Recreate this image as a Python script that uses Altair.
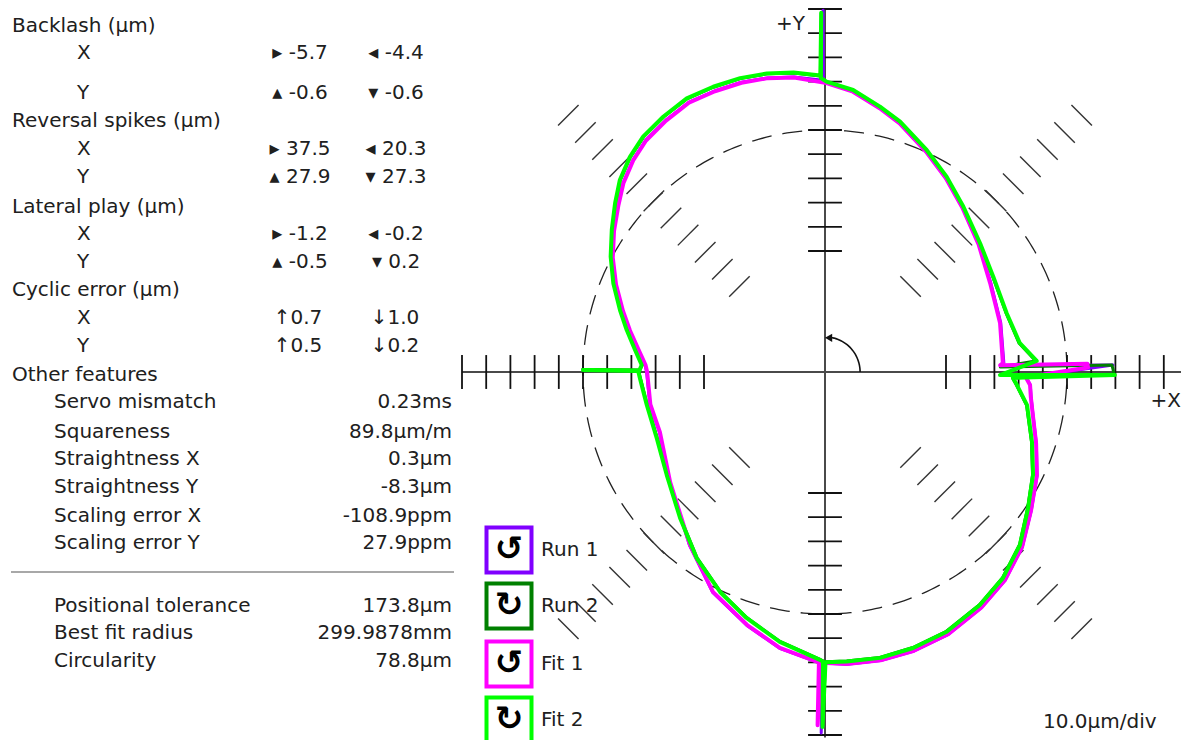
import numpy as np
import pandas as pd
import altair as alt

# ---------------- values ----------------
backlash_x = [-5.7, -4.4]
backlash_y = [-0.6, -0.6]
reversal_x = [37.5, 20.3]
reversal_y = [27.9, 27.3]
lateral_x = [-1.2, -0.2]
lateral_y = [-0.5, 0.2]
cyclic_x = [0.7, 1.0]
cyclic_y = [0.5, 0.2]

other_labels = ["Servo mismatch", "Squareness", "Straightness X", "Straightness Y",
                "Scaling error X", "Scaling error Y"]
other_values = ["0.23ms", "89.8µm/m", "0.3µm", "-8.3µm", "-108.9ppm", "27.9ppm"]
summary_labels = ["Positional tolerance", "Best fit radius", "Circularity"]
summary_values = ["173.8µm", "299.9878mm", "78.8µm"]

series_names = ["Run 1", "Run 2", "Fit 1", "Fit 2"]
series_colors = ["#8000ff", "#008000", "#ff00ff", "#00ff00"]
series_icons = ["↺", "↻", "↺", "↻"]

# polar traces: angle (deg) and radial deviation (µm), 10 µm per division
run1_angle = [2.9, 15.6, 28.3, 39.7, 50.1, 58.1, 65.4, 73.3, 78.3, 84.3, 89.7, 90.3, 90.3, 90.4,
              96.0, 101.0, 106.1, 111.4, 116.8, 122.3, 127.7, 132.2, 136.9, 141.2, 146.3, 151.7,
              157.3, 163.2, 168.0, 173.4, 177.8, 180.0, 190.5, 200.0, 215.4, 232.0, 243.0, 252.9,
              260.7, 268.5, 269.4, 269.4, 269.7, 274.3, 280.9, 287.7, 295.1, 303.6, 310.8, 318.4,
              326.2, 334.0, 341.3, 348.3, 353.0, 356.4, 358.5, 1.4, 2.0, 2.9]
run1_dev = [-26.0, -24.6, -22.2, -17.3, -11.4, -5.5, 0.4, 7.5, 11.5, 16.6, 19.5, 19.8, 49.5, 20.6,
            22.6, 23.8, 24.6, 24.8, 24.8, 23.1, 21.1, 18.2, 14.3, 9.8, 5.0, -0.2,
            -6.2, -12.6, -17.4, -22.4, -25.6, -26.3, -26.4, -27.2, -21.3, -9.1, 2.2, 9.6,
            15.7, 19.9, 20.0, 49.2, 20.3, 21.1, 21.4, 21.0, 19.8, 16.9, 13.8, 9.0,
            2.6, -2.5, -7.8, -12.2, -14.2, -15.0, -16.9, 19.0, -27.4, -26.0]

run2_angle = [3.0, 8.4, 17.9, 29.5, 39.7, 50.1, 58.1, 65.4, 73.3, 78.3, 84.3, 89.7, 90.8, 90.6, 90.9,
              96.0, 101.0, 106.1, 111.4, 116.8, 122.3, 127.7, 132.2, 136.9, 141.2, 146.3, 151.7,
              157.3, 163.2, 168.0, 173.4, 177.8, 179.4, 179.4, 179.7, 182.0, 190.5, 201.4, 213.0,
              225.2, 235.4, 244.5, 252.3, 260.5, 269.0, 269.6, 269.6, 270.1, 274.3, 280.9, 287.7,
              295.1, 303.6, 310.8, 318.4, 326.2, 333.7, 341.3, 350.7, 356.1, 358.2, 359.6, 1.4,
              1.6, 3.0]
run2_dev = [-12.8, -18.9, -21.3, -20.3, -16.9, -11.1, -5.1, 0.7, 7.8, 11.8, 16.9, 19.8, 21.3, 48.3, 22.3,
            24.2, 25.5, 26.2, 26.4, 26.5, 24.7, 22.7, 19.8, 15.9, 11.1, 5.7, 0.4,
            -5.4, -11.7, -16.4, -21.2, -24.4, -23.5, 0.2, -23.0, -23.7, -25.3, -25.5, -22.2,
            -15.2, -6.8, 0.5, 6.5, 12.9, 18.8, 19.4, 46.5, 19.7, 19.8, 20.1, 19.5,
            18.3, 15.4, 12.3, 7.5, 0.8, -4.3, -9.9, -15.6, -20.7, -22.5, 19.5, 18.6,
            -27.5, -12.8]

fit1_angle = [2.9, 15.6, 28.3, 39.7, 50.1, 58.1, 65.4, 73.3, 78.3, 84.3, 89.7,
              96.0, 101.0, 106.1, 111.4, 116.8, 122.3, 127.7, 132.2, 136.9, 141.2, 146.3, 151.7,
              157.3, 163.2, 168.0, 173.4, 177.8, 180.0, 190.5, 200.0, 215.4, 232.0, 243.0, 252.9,
              260.7, 268.5, 268.8, 268.8, 269.3, 274.3, 280.9, 287.7, 295.1, 303.6, 310.8, 318.4,
              326.2, 334.0, 341.3, 348.3, 353.0, 356.4, 358.5, 1.0, 1.8, 2.2, 2.9]
fit1_dev = [-26.4, -24.9, -22.5, -17.5, -11.5, -5.6, 0.2, 7.3, 11.3, 16.4, 19.4,
            22.4, 23.7, 24.4, 24.6, 24.7, 22.9, 20.9, 18.0, 14.1, 9.6, 4.8, -0.4,
            -6.4, -12.8, -17.6, -22.6, -25.8, -26.5, -26.6, -27.4, -21.5, -9.3, 2.0, 9.4,
            15.5, 19.8, 20.0, 46.0, 20.2, 21.0, 21.3, 20.9, 19.7, 16.8, 13.7, 8.9,
            2.5, -2.6, -7.9, -12.3, -14.3, -15.1, -17.0, 8.7, 8.5, -27.6, -26.4]

fit2_angle = [3.0, 8.4, 17.9, 29.5, 39.7, 50.1, 58.1, 65.4, 73.3, 78.3, 84.3, 89.7, 90.8, 90.6, 90.9,
              96.0, 101.0, 106.1, 111.4, 116.8, 122.3, 127.7, 132.2, 136.9, 141.2, 146.3, 151.7,
              157.3, 163.2, 168.0, 173.4, 177.8, 179.5, 179.5, 179.7, 182.0, 190.5, 201.4, 213.0,
              225.2, 235.4, 244.5, 252.3, 260.5, 269.0, 269.6, 269.6, 270.1, 274.3, 280.9, 287.7,
              295.1, 303.6, 310.8, 318.4, 326.2, 333.7, 341.3, 350.7, 356.1, 358.2, 359.4, 359.0,
              3.0]
fit2_dev = [-12.4, -18.6, -21.1, -20.1, -16.7, -10.9, -4.9, 0.9, 8.0, 12.0, 17.1, 20.0, 21.5, 48.5, 22.5,
            24.4, 25.7, 26.4, 26.6, 26.7, 24.9, 22.9, 20.0, 16.1, 11.3, 5.9, 0.6,
            -5.2, -11.5, -16.2, -21.0, -24.2, -23.3, 0.0, -22.8, -23.5, -25.1, -25.3, -22.0,
            -15.0, -6.6, 0.7, 6.7, 13.1, 19.0, 19.6, 46.7, 19.9, 20.0, 20.3, 19.7,
            18.5, 15.6, 12.5, 7.7, 1.0, -4.1, -9.7, -15.4, -20.5, -22.3, 19.8, -27.7,
            -12.4]

scale_label = "10.0µm/div"

# ---------------- layout ----------------
FONT = "DejaVu Sans"
TXT = "#202020"
FS = 20
W, H = 1173, 732
S = 24.2                      # pixels per division
CX, CY = 817.0, 364.0         # centre of the polar plot inside the view
XMIN, XMAX = -CX / S, (W - CX) / S
YMIN, YMAX = -(H - CY) / S, CY / S
xs = alt.Scale(domain=[XMIN, XMAX], nice=False, zero=False)
ys = alt.Scale(domain=[YMIN, YMAX], nice=False, zero=False)


def ix(p):
    return (p - 8 - CX) / S


def iy(p):
    return (CY - (p - 8)) / S


def enc(**extra):
    e = dict(x=alt.X("x:Q", scale=xs, axis=None), y=alt.Y("y:Q", scale=ys, axis=None))
    e.update(extra)
    return e


def trace(angles, devs):
    a = np.radians(np.array(angles, float))
    r = 10 + np.array(devs, float) / 10.0
    return pd.DataFrame({"i": np.arange(len(a)), "x": r * np.cos(a), "y": r * np.sin(a)})


layers = []

# nominal (dashed) circle
ca = np.radians(np.arange(0, 361, 1.0))
circ = pd.DataFrame({"i": np.arange(len(ca)), "x": 10 * np.cos(ca), "y": 10 * np.sin(ca)})
layers.append(alt.Chart(circ).mark_line(color="#222", strokeWidth=1.3, strokeDash=[20, 11])
              .encode(**enc(order="i:Q")))

# axis lines
axes_df = pd.DataFrame([
    {"x": ix(462), "y": 0.0, "x2": XMAX, "y2": 0.0},
    {"x": 0.0, "y": -15.1, "x2": 0.0, "y2": YMAX},
])
layers.append(alt.Chart(axes_df).mark_rule(color="#4a4a4a", strokeWidth=2)
              .encode(**enc(x2="x2:Q", y2="y2:Q")))

# ticks on axes and diagonals
tick_div = list(range(5, 16))
rows = []
for d in tick_div:
    for ang in (0, 90, 180, 270):
        ux, uy = np.cos(np.radians(ang)), np.sin(np.radians(ang))
        cx, cy = d * ux, d * uy
        px, py = -uy, ux
        rows.append({"x": cx - 0.7 * px, "y": cy - 0.7 * py, "x2": cx + 0.7 * px, "y2": cy + 0.7 * py})
ticks_df = pd.DataFrame(rows)
layers.append(alt.Chart(ticks_df).mark_rule(color="#111", strokeWidth=1.8)
              .encode(**enc(x2="x2:Q", y2="y2:Q")))
rows = []
for d in tick_div:
    for ang in (45, 135, 225, 315):
        ux, uy = np.cos(np.radians(ang)), np.sin(np.radians(ang))
        cx, cy = d * ux, d * uy
        px, py = -uy, ux
        rows.append({"x": cx - 0.6 * px, "y": cy - 0.6 * py, "x2": cx + 0.6 * px, "y2": cy + 0.6 * py})
diag_df = pd.DataFrame(rows)
layers.append(alt.Chart(diag_df).mark_rule(color="#333", strokeWidth=1.4)
              .encode(**enc(x2="x2:Q", y2="y2:Q")))

# centre direction arrow
aa = np.radians(np.arange(0, 85, 3.0))
arc = pd.DataFrame({"i": np.arange(len(aa)), "x": 1.45 * np.cos(aa), "y": 1.45 * np.sin(aa)})
layers.append(alt.Chart(arc).mark_line(color="#111", strokeWidth=1.6).encode(**enc(order="i:Q")))
head = pd.DataFrame({"x": [1.42 * np.cos(np.radians(84))], "y": [1.42 * np.sin(np.radians(84))]})
layers.append(alt.Chart(head).mark_point(shape="triangle-left", size=70, filled=True, color="#111",
                                         opacity=1).encode(**enc()))

# data traces
traces = [(run1_angle, run1_dev, 3.0), (run2_angle, run2_dev, 3.0),
          (fit1_angle, fit1_dev, 4.0), (fit2_angle, fit2_dev, 4.0)]
for (ang, dev, sw), col in zip(traces, series_colors):
    layers.append(alt.Chart(trace(ang, dev)).mark_line(color=col, strokeWidth=sw, strokeJoin="round",
                                                       strokeCap="round").encode(**enc(order="i:Q")))

# ---------------- text panel ----------------
def text_layer(rows, align, **kw):
    df = pd.DataFrame(rows, columns=["t", "x", "y"])
    props = dict(align=align, baseline="middle", font=FONT, fontSize=FS, color=TXT)
    props.update(kw)
    return alt.Chart(df).mark_text(**props).encode(**enc(text="t:N"))


heads = [("Backlash (µm)", 26), ("Reversal spikes (µm)", 121), ("Lateral play (µm)", 207),
         ("Cyclic error (µm)", 290), ("Other features", 375)]
left_rows = [(t, ix(12), iy(y)) for t, y in heads]
sub_y = [53, 93, 149, 177, 234, 262, 318, 346]
sub_rows = [(lab, ix(77), iy(y)) for lab, y in zip(["X", "Y"] * 4, sub_y)]
feat_y = [402, 432, 459, 487, 516, 543]
sum_y = [606, 633, 661]
feat_rows = [(t, ix(54), iy(y)) for t, y in zip(other_labels + summary_labels, feat_y + sum_y)]
val_rows = [(t, ix(452), iy(y)) for t, y in zip(other_values + summary_values, feat_y + sum_y)]

groups = [(backlash_x, ("▸", "◂")), (backlash_y, ("▴", "▾")),
          (reversal_x, ("▸", "◂")), (reversal_y, ("▴", "▾")),
          (lateral_x, ("▸", "◂")), (lateral_y, ("▴", "▾"))]
cell_rows = []
for (vals, syms), y in zip(groups, sub_y[:6]):
    cell_rows.append((f"{syms[0]} {vals[0]:.1f}", ix(300), iy(y)))
    cell_rows.append((f"{syms[1]} {vals[1]:.1f}", ix(396), iy(y)))
for vals, y in zip([cyclic_x, cyclic_y], sub_y[6:]):
    cell_rows.append((f"↑{vals[0]:.1f}", ix(298), iy(y)))
    cell_rows.append((f"↓{vals[1]:.1f}", ix(395), iy(y)))

layers.append(text_layer(left_rows + sub_rows + feat_rows, "left"))
layers.append(text_layer(cell_rows, "center"))
layers.append(text_layer(val_rows, "right"))

sep = pd.DataFrame([{"x": ix(11), "y": iy(572), "x2": ix(454), "y2": iy(572)}])
layers.append(alt.Chart(sep).mark_rule(color="#a8a8a8", strokeWidth=2).encode(**enc(x2="x2:Q", y2="y2:Q")))

# axis labels and scale
layers.append(text_layer([("+Y", ix(805), iy(24))], "right"))
layers.append(text_layer([("+X", ix(1181), iy(401))], "right"))
layers.append(text_layer([(scale_label, ix(1043), iy(722))], "left"))

# ---------------- legend ----------------
leg = pd.DataFrame({
    "name": series_names, "color": series_colors, "icon": series_icons,
    "x": [ix(509)] * 4, "y": [iy(550), iy(606), iy(664), iy(720)],
    "lx": [ix(541)] * 4,
})
layers.append(alt.Chart(leg).mark_square(size=45 * 45, filled=True, fill="white", strokeWidth=4,
                                         opacity=1, fillOpacity=1)
              .encode(**enc(stroke=alt.Stroke("color:N", scale=None))))
layers.append(alt.Chart(leg).mark_text(font=FONT, fontSize=34, fontWeight="bold", color="#000",
                                       align="center", baseline="middle")
              .encode(**enc(text="icon:N")))
layers.append(alt.Chart(leg).mark_text(font=FONT, fontSize=FS, color=TXT, align="left", baseline="middle")
              .encode(x=alt.X("lx:Q", scale=xs, axis=None), y=alt.Y("y:Q", scale=ys, axis=None),
                      text="name:N"))

chart = alt.layer(*layers).properties(
    width=W, height=H, padding=0, autosize=alt.AutoSizeParams(type="none")
).configure_view(stroke=None)

chart.save("out.html", embed_options={"renderer": "svg", "actions": False})
